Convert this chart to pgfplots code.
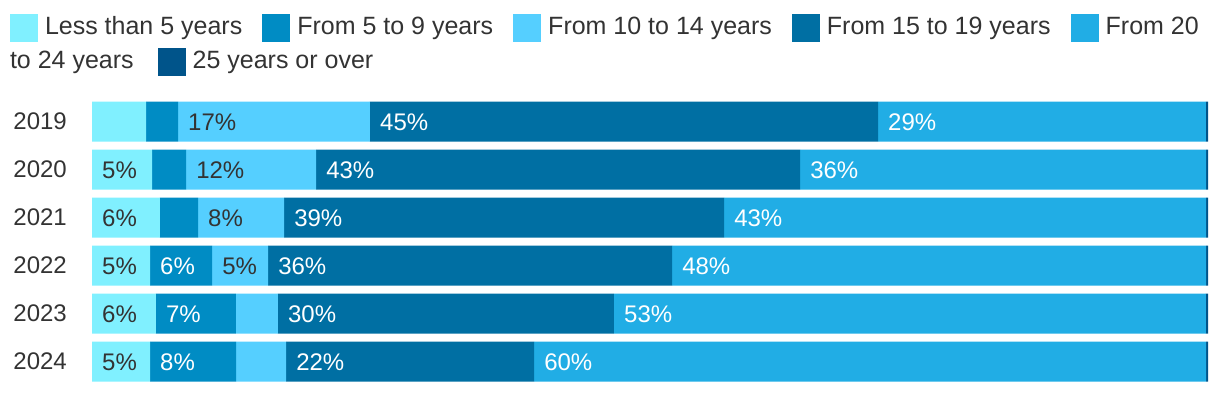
\documentclass[border=0pt]{standalone}
\usepackage{fontspec}
\setmainfont{Liberation Sans}
\usepackage{pgfplots}
\pgfplotsset{compat=1.18}

\definecolor{c1}{RGB}{128,240,255}
\definecolor{c2}{RGB}{0,140,196}
\definecolor{c3}{RGB}{85,207,255}
\definecolor{c4}{RGB}{0,111,163}
\definecolor{c5}{RGB}{33,173,229}
\definecolor{c6}{RGB}{0,84,138}
\definecolor{tdark}{RGB}{51,51,51}

\pgfplotsset{
  sq/.style={legend image code/.code={\fill[##1] (0bp,-14bp) rectangle (28bp,14bp);}},
  basegeom/.style={
    scale only axis, width=1116bp, height=288bp,
    at={(92bp,-385.7bp)}, anchor=south west,
    xmin=0, xmax=100, ymin=-0.5, ymax=5.5,
    enlargelimits=false, clip=false,
    legend columns=-1,
    legend style={draw=none, fill=none, inner sep=0pt, outer sep=0pt,
      font=\fontsize{25bp}{30bp}\selectfont, text=tdark,
      nodes={inner sep=0pt, text height=18bp, text depth=5bp},
      /tikz/every odd column/.append style={column sep=7bp},
      /tikz/every even column/.append style={column sep=20bp}},
  },
  lab/.style={forget plot, draw=none, mark=none, nodes near coords, point meta=explicit symbolic,
    every node near coord/.append style={anchor=west, inner sep=0pt, xshift=10bp,
      text height=17bp, text depth=0bp,
      font=\fontsize{24bp}{28bp}\selectfont, text=#1}},
}

\begin{document}
\begin{tikzpicture}
\useasboundingbox (0bp,0bp) rectangle (1220bp,-394bp);

\begin{axis}[basegeom,
  xbar stacked, bar width=40bp,
  axis line style={draw=none}, tick style={draw=none},
  xtick=\empty,
  ytick={0,1,2,3,4,5},
  yticklabels={2024,2023,2022,2021,2020,2019},
  yticklabel style={font=\fontsize{24bp}{28bp}\selectfont, text=tdark,
    inner sep=0pt, anchor=east, xshift=-25bp},
  legend style={at={(-0.073477,1.29063)}, anchor=north west},
]
\addplot[fill=c1, draw=none, sq] coordinates {(4.84,5) (5.38,4) (6.09,3) (5.20,2) (5.73,1) (5.20,0)};
\addplot[fill=c2, draw=none, sq] coordinates {(2.87,5) (3.05,4) (3.41,3) (5.56,2) (7.17,1) (7.71,0)};
\addplot[fill=c3, draw=none, sq] coordinates {(17.20,5) (11.65,4) (7.71,3) (5.02,2) (3.76,1) (4.48,0)};
\addplot[fill=c4, draw=none, sq] coordinates {(45.52,5) (43.37,4) (39.43,3) (36.20,2) (30.11,1) (22.22,0)};
\addplot[fill=c5, draw=none, sq] coordinates {(29.39,5) (36.38,4) (43.19,3) (47.85,2) (53.05,1) (60.22,0)};
\addplot[fill=c6, draw=none, sq] coordinates {(0.18,5) (0.18,4) (0.18,3) (0.18,2) (0.18,1) (0.18,0)};
\legend{Less than 5 years, From 5 to 9 years, From 10 to 14 years, From 15 to 19 years, From 20}
\end{axis}

\begin{axis}[basegeom, hide axis,
  legend style={at={(-0.079749,1.17257)}, anchor=north west,
    /tikz/every even column/.append style={column sep=24bp}},
]
\addplot[lab=tdark] coordinates {
  (7.71,5) [17\%]
  (0,4) [5\%] (8.43,4) [12\%]
  (0,3) [6\%] (9.50,3) [8\%]
  (0,2) [5\%] (10.76,2) [5\%]
  (0,1) [6\%]
  (0,0) [5\%]
};
\addplot[lab=white] coordinates {
  (24.91,5) [45\%] (70.43,5) [29\%]
  (20.08,4) [43\%] (63.45,4) [36\%]
  (17.21,3) [39\%] (56.64,3) [43\%]
  (5.20,2) [6\%] (15.78,2) [36\%] (51.98,2) [48\%]
  (5.73,1) [7\%] (16.66,1) [30\%] (46.77,1) [53\%]
  (5.20,0) [8\%] (17.39,0) [22\%] (39.61,0) [60\%]
};
\addlegendimage{empty legend}
\addlegendentry{to 24 years}
\addlegendimage{fill=c6, draw=none, sq}
\addlegendentry{25 years or over}
\end{axis}
\end{tikzpicture}
\end{document}
